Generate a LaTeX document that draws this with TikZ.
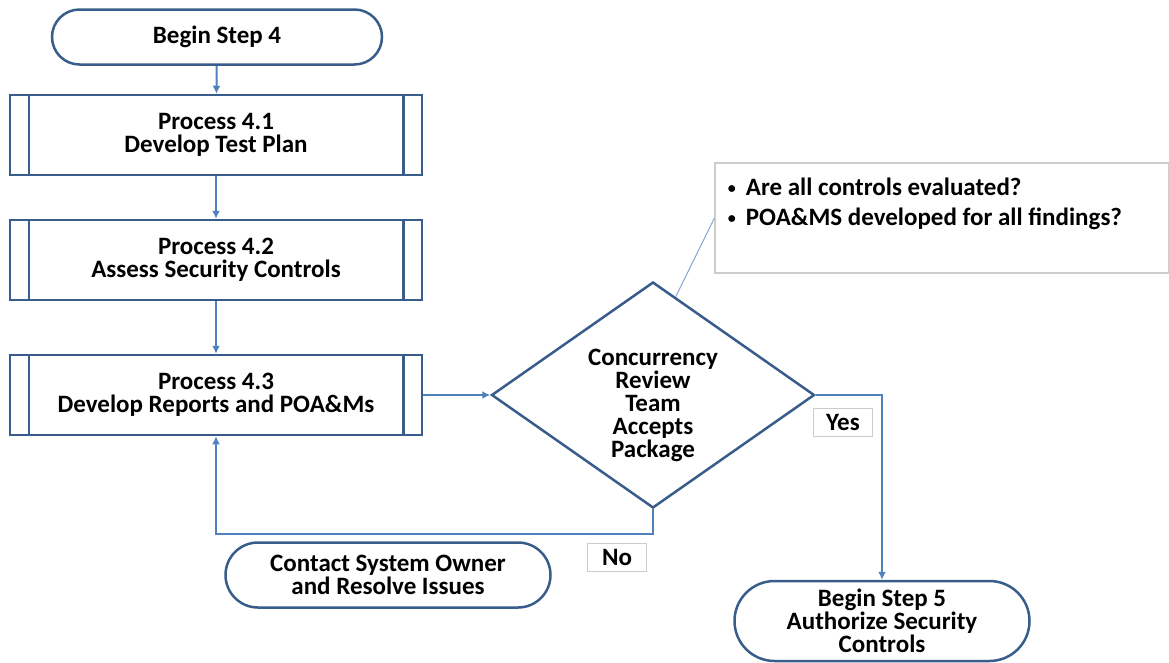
\documentclass[tikz,border=0pt]{standalone}
\usepackage{fontspec}
\setmainfont{Carlito}
\usepackage{tikz}
\usetikzlibrary{shapes.geometric}
\usetikzlibrary{shapes.misc}
\usetikzlibrary{arrows.meta}
\usetikzlibrary{positioning}
\definecolor{boxblue}{RGB}{56, 93, 138}
\definecolor{lineblue}{RGB}{79, 129, 189}
\definecolor{notegray}{RGB}{205, 205, 205}
\newcommand{\notebullet}{\raisebox{2pt}{\fontsize{16}{16}\selectfont\textbullet}\hspace{10pt}}
\tikzset{
  flowtext/.style  = {font=\bfseries\fontsize{25}{23}\selectfont, align=center, text=black},
  terminal/.style  = {flowtext, rounded rectangle, draw=boxblue, line width=2.5pt, fill=white, inner sep=0pt},
  procbox/.style   = {flowtext, rectangle, draw=boxblue, line width=2.5pt, minimum width=412pt, minimum height=80pt},
  decision/.style  = {diamond, draw=boxblue, line width=2.5pt, minimum width=323pt, minimum height=226pt, inner sep=0pt},
  labelbox/.style  = {flowtext, rectangle, draw=notegray, line width=1pt, fill=white, minimum width=59pt, minimum height=28pt, inner sep=0pt},
  notebox/.style   = {rectangle, draw=notegray, line width=1.2pt, minimum width=454pt, minimum height=110pt},
  flowarrow/.style = {draw=lineblue, line width=2pt, -{Latex[length=8pt,width=8pt]}},
  noteline/.style  = {draw=lineblue!70, line width=1pt}
}

\begin{document}
\begin{tikzpicture}[x=1pt, y=-1pt]
  \useasboundingbox (0,0) rectangle (1169,662);
  % left column
  \node[terminal, minimum width=330pt, minimum height=55pt] (s4)  at (217, 37) {Begin Step 4};
  \node[procbox]                                            (p41) at (216,135) {Process 4.1\\Develop Test Plan};
  \node[procbox]                                            (p42) at (216,260) {Process 4.2\\Assess Security Controls};
  \node[procbox]                                            (p43) at (216,395) {Process 4.3\\Develop Reports and POA\&Ms};
  \foreach \n in {p41,p42,p43} {
    \draw[boxblue, line width=2.5pt] ([xshift=20pt]\n.north west) -- ([xshift=20pt]\n.south west);
    \draw[boxblue, line width=2.5pt] ([xshift=-20pt]\n.north east) -- ([xshift=-20pt]\n.south east);
  }
  % decision and outcomes
  \node[decision]                                            (dia) at (653,395) {};
  \node[flowtext]                                            (diatxt) at (653,405) {Concurrency\\Review\\Team\\Accepts\\Package};
  \node[terminal, minimum width=325pt, minimum height=65pt] (own) at (388,575) {Contact System Owner\\and Resolve Issues};
  \node[terminal, minimum width=295pt, minimum height=80pt] (s5)  at (882,621) {Begin Step 5\\Authorize Security\\Controls};
  \node[labelbox]                                            (yes) at (843,422) {Yes};
  \node[labelbox]                                            (no)  at (617,557) {No};
  % review note
  \node[notebox]                                             (note) at (942,218) {};
  \node[flowtext, align=left, anchor=north west]             (notetxt) at ([xshift=10pt,yshift=-12pt]note.north west)
       {\notebullet Are all controls evaluated?\\[7pt]\notebullet POA\&MS developed for all findings?};
  \coordinate (nocorner) at (653,534);
  % connectors
  \draw[flowarrow] (s4)  -- (p41);
  \draw[flowarrow] (p41) -- (p42);
  \draw[flowarrow] (p42) -- (p43);
  \draw[flowarrow] (p43.east) -- (dia.west);
  \draw[flowarrow] (dia.east) -| (s5.north);
  \draw[flowarrow] (dia.south) -- (nocorner) -| (p43.south);
  \draw[noteline]  (dia.77) -- (note.west);
\end{tikzpicture}
\end{document}
